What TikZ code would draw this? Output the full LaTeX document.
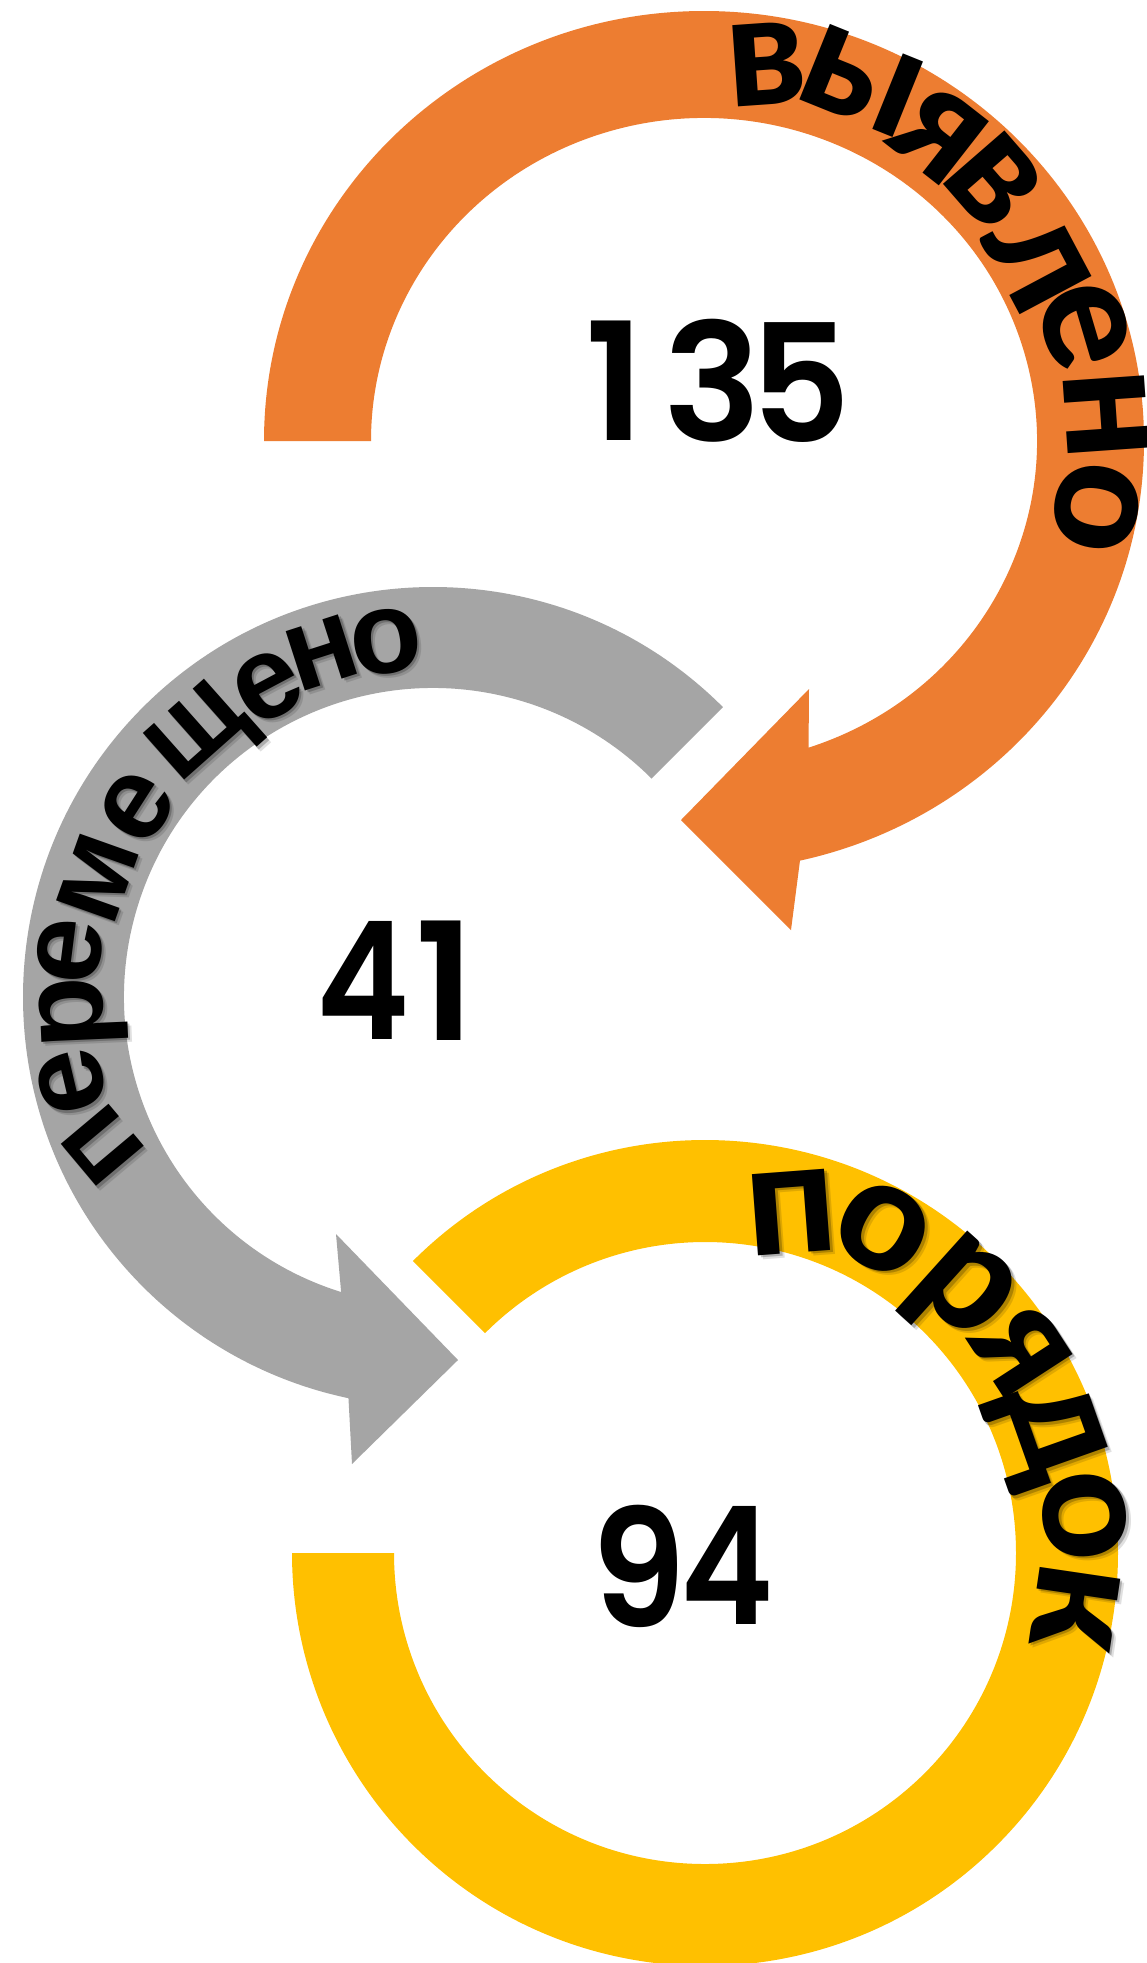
\documentclass[tikz,border=0pt]{standalone}
\usepackage{fontspec}
\newfontfamily\latofont{Lato Heavy}
\newfontfamily\arialfont{Liberation Sans}
\newfontfamily\numfont{Poppins SemiBold}
\definecolor{arcorange}{HTML}{ED7D31}
\definecolor{arcgrey}{HTML}{A5A5A5}
\definecolor{arcyellow}{HTML}{FFC000}
\begin{document}
\begin{tikzpicture}[x=1pt,y=1pt,
  lettr/.style={inner sep=0pt, outer sep=0pt, anchor=base},
  bigltr/.style={lettr, font=\latofont\fontsize{158}{158}\selectfont},
  smlltr/.style={lettr, font=\arialfont\bfseries\fontsize{118}{118}\selectfont},
  shadowa/.style={opacity=0.22, text opacity=0.22},
  shadowb/.style={opacity=0.12, text opacity=0.12},
  digit/.style={inner sep=0pt, outer sep=0pt, anchor=center, font=\numfont\fontsize{164}{164}\selectfont}]
\useasboundingbox (0,0) rectangle (1147,-1963);
\fill[white] (0,0) rectangle (1147,-1963);

% ---------- orange arrow ----------
\coordinate (O1) at (704,-441);
\coordinate (OAb) at (791,-930);
\coordinate (OAtip) at (681,-820);
\coordinate (OAt) at (809,-689);
\fill[arcorange] ([shift={(O1)}]180:440 and 430)
  arc[start angle=180, end angle=-77.4, x radius=440, y radius=430]
  -- (OAb) -- (OAtip) -- (OAt)
  -- ([shift={(O1)}]-71.7:333 and 323)
  arc[start angle=-71.7, end angle=180, x radius=333, y radius=323] -- cycle;

% ---------- grey arrow ----------
\coordinate (G) at (433,-997);
\coordinate (GAb) at (352,-1464);
\coordinate (GAtip) at (458,-1360);
\coordinate (GAt) at (336,-1234);
\fill[arcgrey] ([shift={(G)}]45:410)
  arc[start angle=45, end angle=258.1, radius=410]
  -- (GAb) -- (GAtip) -- (GAt)
  -- ([shift={(G)}]252.7:309)
  arc[start angle=252.7, end angle=45, radius=309] -- cycle;

% ---------- yellow ring ----------
\coordinate (Y) at (705,-1553);
\fill[arcyellow] ([shift={(Y)}]135:413)
  arc[start angle=135, end angle=-180, radius=413]
  -- ([shift={(Y)}]180:311)
  arc[start angle=-180, end angle=135, radius=311] -- cycle;

% ---------- numbers ----------
\node[digit] (n1a) at (615.2,-380.8) {1};
\node[digit] (n1b) at (712.5,-380.5) {3};
\node[digit] (n1c) at (800.7,-382.2) {\scalebox{0.95}[1]{5}};
\node[digit] (n2a) at (362.8,-980) {\scalebox{0.86}[1]{4}};
\node[digit] (n2b) at (445,-981) {1};
\node[digit] (n3a) at (638.6,-1566.5) {\scalebox{0.92}[1]{9}};
\node[digit] (n3b) at (727,-1565) {\scalebox{0.86}[1]{4}};

% ---------- orange text ----------
\foreach \ch/\px/\py/\tl [count=\i] in {в/766/64.6/-4, ы/861/82/22, я/939/135/38, в/994/181/49,
    л/1037.5/262/62, е/1084/326/73.5, н/1106/415/86, о/1096/507/100}{
  \node[bigltr, rotate={0-(\tl)}] (o\i) at (\px,-\py) {\raisebox{-0.2533em}{\ch}};
}

% ---------- grey text ----------
\foreach \ch/\px/\py/\tl [count=\i] in {п/103/1145/230, е/72/1082/256.7, р/72.3/1012.7/267.5,
    е/70/951/277.2, м/98/878/289.6, е/137/807/302.7, щ/195/730/318.4, е/268/687/332,
    н/322/653/342.1, о/386/642/352.5}{
  \node[smlltr, shadowb, rotate={0-(\tl)}] at (\px+4.5,-\py-4.5) {\raisebox{-0.2595em}{\ch}};
  \node[smlltr, shadowa, rotate={0-(\tl)}] at (\px+2.5,-\py-2.5) {\raisebox{-0.2595em}{\ch}};
  \node[smlltr, rotate={0-(\tl)}] (g\i) at (\px,-\py) {\raisebox{-0.2595em}{\ch}};
}

% ---------- yellow text ----------
\foreach \ch/\px/\py/\tl [count=\i] in {п/791.7/1212.7/-4.3, о/883/1229/28.8, р/967/1286/42,
    я/1020.7/1350.7/57, д/1058/1430/70.5, о/1084/1515.7/84.4, к/1074.6/1607.5/98.4}{
  \node[bigltr, shadowb, rotate={0-(\tl)}] at (\px+4.5,-\py-4.5) {\raisebox{-0.2533em}{\ch}};
  \node[bigltr, shadowa, rotate={0-(\tl)}] at (\px+2.5,-\py-2.5) {\raisebox{-0.2533em}{\ch}};
  \node[bigltr, rotate={0-(\tl)}] (y\i) at (\px,-\py) {\raisebox{-0.2533em}{\ch}};
}
\end{tikzpicture}
\end{document}
